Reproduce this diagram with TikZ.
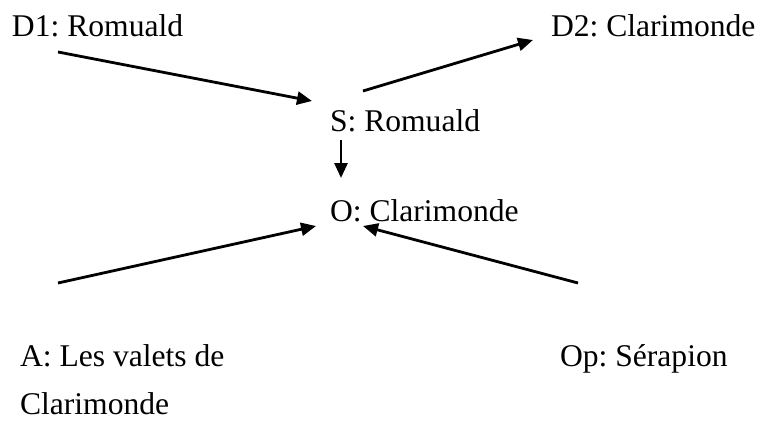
\documentclass[tikz,border=0pt]{standalone}
\usepackage{fontspec}
\setmainfont{Liberation Serif}
\usetikzlibrary{arrows.meta}
\frenchspacing
\tikzset{
  lbl/.style={anchor=base west, inner sep=0pt, outer sep=0pt, font=\fontsize{31.6}{48}\selectfont},
  arr/.style={line width=2.8pt, -{Triangle[length=15pt,width=13pt]}}
}
\begin{document}
\begin{tikzpicture}[x=1pt,y=-1pt]
\useasboundingbox (0,0) rectangle (761,439);
\node[lbl] (d1) at (12,36) {D1: Romuald};
\node[lbl] (d2) at (551,36) {D2: Clarimonde};
\node[lbl] (s) at (330,131) {S: Romuald};
\node[lbl] (o) at (330,221) {O: Clarimonde};
\node[lbl, align=left] (a) at (20,414) {A: Les valets de\\Clarimonde};
\node[lbl] (op) at (560,366) {Op: Sérapion};
\coordinate (d1s) at (58,52);
\coordinate (d1e) at (312,101);
\coordinate (d2s) at (363,91);
\coordinate (d2e) at (533,40);
\coordinate (ss) at (341,140);
\coordinate (se) at (341,178);
\coordinate (as) at (58,283);
\coordinate (ae) at (316,226);
\coordinate (ops) at (578,283);
\coordinate (ope) at (363,226);
\draw[arr] (d1s) -- (d1e);
\draw[arr] (d2s) -- (d2e);
\draw[arr] (ss) -- (se);
\draw[arr] (as) -- (ae);
\draw[arr] (ops) -- (ope);
\end{tikzpicture}
\end{document}
